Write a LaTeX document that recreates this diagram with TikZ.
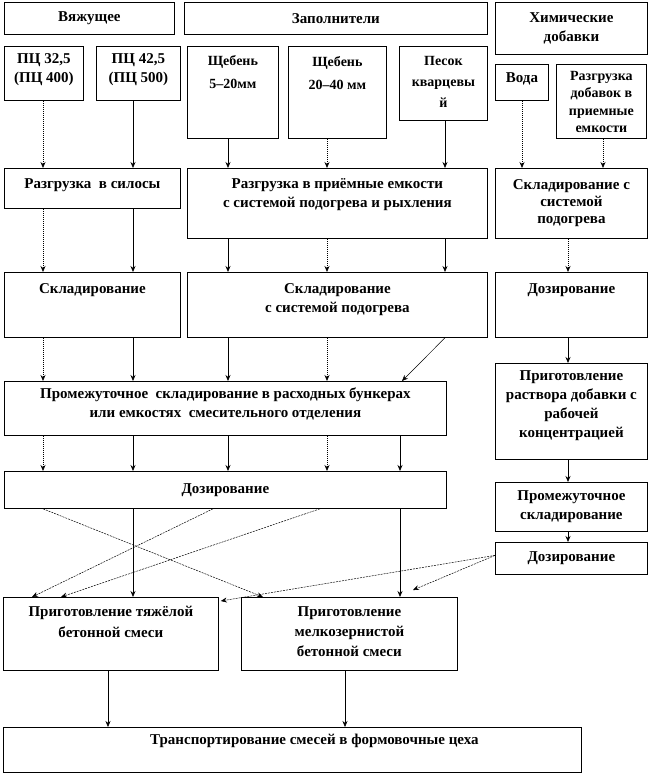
\documentclass[tikz,border=0pt]{standalone}
\usepackage{fontspec}
\setmainfont{Liberation Serif}
\usetikzlibrary{arrows.meta}

\begin{document}
\begin{tikzpicture}[x=1pt,y=-1pt,
    blk/.style={draw,line width=0.8pt,anchor=north west,inner sep=0pt,align=center,
      font=\bfseries\fontsize{15}{19}\selectfont},
    lbl/.style={anchor=north,inner sep=0pt,yshift=-#1,align=center,
      font=\bfseries\fontsize{15}{19}\selectfont},
    lbl/.default=8pt,
    arr/.style={-{Stealth[length=6pt,width=5pt]},line width=0.7pt},
    dot/.style={arr,dash pattern=on 1pt off 1pt},
    cross/.style={arr,line width=0.5pt,dash pattern=on 2pt off 1pt}]
  \useasboundingbox (0,0) rectangle (649,775);

  % columns
  \coordinate (k1) at (43,0);
  \coordinate (k2) at (133,0);
  \coordinate (k3) at (228,0);
  \coordinate (k4) at (327,0);
  \coordinate (k5) at (445,0);
  \coordinate (k6) at (400,0);
  \coordinate (k7) at (402,0);
  \coordinate (k8) at (263,0);
  \coordinate (k9) at (213,0);
  \coordinate (k10) at (320,0);
  \coordinate (k11) at (32,0);
  \coordinate (k12) at (61,0);
  \coordinate (kv) at (522,0);
  \coordinate (kd) at (603,0);
  \coordinate (kr) at (568,0);

  % headers
  \node[blk,minimum width=170pt,minimum height=32pt] (vyazh) at (4,2) {Вяжущее};
  \node[blk,minimum width=303pt,minimum height=32pt] (zapoln) at (184,2) {Заполнители};
  \node[blk,minimum width=152pt,minimum height=52pt] (khim) at (495,2) {Химические\\добавки};

  % materials
  \node[blk,minimum width=79pt,minimum height=54pt,label={[lbl=7pt]north:ПЦ 32,5\\(ПЦ 400)}] (pc1) at (4,46) {};
  \node[blk,minimum width=84pt,minimum height=54pt,label={[lbl=7pt]north:ПЦ 42,5\\(ПЦ 500)}] (pc2) at (96,46) {};
  \node[blk,minimum width=91pt,minimum height=92pt,label={[lbl=9pt,font=\bfseries\fontsize{14}{23}\selectfont]north:Щебень\\5–20мм}] (sheb1) at (187,46) {};
  \node[blk,minimum width=98pt,minimum height=92pt,label={[lbl=10pt,font=\bfseries\fontsize{14}{23}\selectfont]north:Щебень\\20–40 мм}] (sheb2) at (288,46) {};
  \node[blk,minimum width=88pt,minimum height=74pt,label={[lbl=10pt,font=\bfseries\fontsize{14}{21}\selectfont]north:Песок\\кварцевы\\й}] (pesok) at (399,46) {};
  \node[blk,minimum width=53pt,minimum height=36pt,label={[lbl=8pt]north:Вода}] (voda) at (495,64) {};
  \node[blk,minimum width=90pt,minimum height=74pt,label={[lbl=7pt,font=\bfseries\fontsize{14}{17.5}\selectfont]north:Разгрузка\\добавок в\\приемные\\емкости}] (razgdob) at (556,64) {};

  % unloading
  \node[blk,minimum width=176pt,minimum height=40pt,label={[lbl=10pt]north:Разгрузка\ \ в силосы}] (silos) at (4,168) {};
  \node[blk,minimum width=300pt,minimum height=70pt,label={[lbl=10pt]north:Разгрузка в приёмные емкости\\с системой подогрева и рыхления}] (priem) at (187,168) {};
  \node[blk,minimum width=152pt,minimum height=70pt,font=\bfseries\fontsize{15}{17}\selectfont] (skladR) at (495,168) {Складирование с\\системой\\подогрева};

  % storage
  \node[blk,minimum width=176pt,minimum height=65pt,label={[lbl=11pt]north:Складирование}] (sklad1) at (4,272) {};
  \node[blk,minimum width=300pt,minimum height=65pt,label={[lbl=11pt]north:Складирование\\с системой подогрева}] (sklad2) at (187,272) {};
  \node[blk,minimum width=152pt,minimum height=65pt,label={[lbl=11pt]north:Дозирование}] (dozR) at (495,272) {};

  % intermediate storage, dosing
  \node[blk,minimum width=442pt,minimum height=54pt,label={[lbl=7pt]north:Промежуточное\ \ складирование в расходных бункерах\\или емкостях\ \ смесительного отделения}] (promL) at (4,381) {};
  \node[blk,minimum width=152pt,minimum height=96pt,label={[lbl=7pt]north:Приготовление\\раствора добавки с\\рабочей\\концентрацией}] (rastvor) at (495,363) {};
  \node[blk,minimum width=442pt,minimum height=37pt] (dozL) at (4,471) {Дозирование};
  \node[blk,minimum width=152pt,minimum height=49pt] (promR) at (495,482) {Промежуточное\\складирование};
  \node[blk,minimum width=152pt,minimum height=32pt] (dozR2) at (495,542) {Дозирование};

  % mixing, transport
  \node[blk,minimum width=215pt,minimum height=73pt,label={[lbl=9pt,font=\bfseries\fontsize{15}{21}\selectfont]north:Приготовление тяжёлой\\бетонной смеси}] (tyazh) at (3,597) {};
  \node[blk,minimum width=216pt,minimum height=73pt,label={[lbl=9pt,font=\bfseries\fontsize{15}{20}\selectfont]north:Приготовление\\мелкозернистой\\бетонной смеси}] (melk) at (241,597) {};
  \node[blk,minimum width=578pt,minimum height=45pt] (transp) at (3,727) {\hspace*{44pt}Транспортирование смесей в формовочные цеха\\[3pt]};

  \coordinate (m1) at (413,590);

  % row 1 -> row 2
  \draw[dot] (pc1.south -| k1) -- (silos.north -| k1);
  \draw[arr] (pc2.south -| k2) -- (silos.north -| k2);
  \draw[arr] (sheb1.south -| k3) -- (priem.north -| k3);
  \draw[dot] (sheb2.south -| k4) -- (priem.north -| k4);
  \draw[arr] (pesok.south -| k5) -- (priem.north -| k5);
  \draw[dot] (voda.south -| kv) -- (skladR.north -| kv);
  \draw[dot] (razgdob.south -| kd) -- (skladR.north -| kd);
  % row 2 -> row 3
  \draw[dot] (silos.south -| k1) -- (sklad1.north -| k1);
  \draw[arr] (silos.south -| k2) -- (sklad1.north -| k2);
  \draw[arr] (priem.south -| k3) -- (sklad2.north -| k3);
  \draw[dot] (priem.south -| k4) -- (sklad2.north -| k4);
  \draw[arr] (priem.south -| k5) -- (sklad2.north -| k5);
  \draw[dot] (skladR.south -| kr) -- (dozR.north -| kr);
  % row 3 -> row 4
  \draw[dot] (sklad1.south -| k1) -- (promL.north -| k1);
  \draw[arr] (sklad1.south -| k2) -- (promL.north -| k2);
  \draw[arr] (sklad2.south -| k3) -- (promL.north -| k3);
  \draw[dot] (sklad2.south -| k4) -- (promL.north -| k4);
  \draw[arr,line width=0.5pt] (sklad2.south -| k5) -- (promL.north -| k7);
  \draw[arr] (dozR.south -| kr) -- (rastvor.north -| kr);
  % row 4 -> row 5
  \draw[dot] (promL.south -| k1) -- (dozL.north -| k1);
  \draw[arr] (promL.south -| k2) -- (dozL.north -| k2);
  \draw[arr] (promL.south -| k3) -- (dozL.north -| k3);
  \draw[dot] (promL.south -| k4) -- (dozL.north -| k4);
  \draw[arr] (promL.south -| k6) -- (dozL.north -| k6);
  \draw[arr] (rastvor.south -| kr) -- (promR.north -| kr);
  \draw[arr] (promR.south -| kr) -- (dozR2.north -| kr);
  % dosing -> mixing
  \draw[arr] (dozL.south -| k2) -- (tyazh.north -| k2);
  \draw[arr] (dozL.south -| k6) -- (melk.north -| k6);
  \draw[cross] (dozL.south -| k1) -- (melk.north -| k8);
  \draw[cross] (dozL.south -| k9) -- (tyazh.north -| k11);
  \draw[cross] (dozL.south -| k10) -- (tyazh.north -| k12);
  \draw[cross] ([yshift=3pt]dozR2.west) -- ([xshift=2pt,yshift=-4pt]tyazh.north east);
  \draw[cross] ([yshift=3pt]dozR2.west) -- (m1);
  % mixing -> transport
  \draw[arr,line width=0.5pt] (tyazh.south -| 108,0) -- (transp.north -| 108,0);
  \draw[arr,line width=0.5pt] (melk.south -| 345,0) -- (transp.north -| 345,0);
\end{tikzpicture}
\end{document}
